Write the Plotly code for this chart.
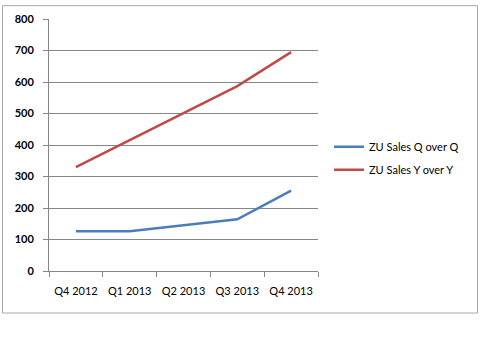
import plotly.graph_objects as go

categories = ["Q4 2012", "Q1 2013", "Q2 2013", "Q3 2013", "Q4 2013"]
qoq_values = [126, 126, 145, 164, 255]
yoy_values = [330, 415, 500, 587, 695]
series_names = ["ZU Sales Q over Q", "ZU Sales Y over Y"]
y_ticks = [0, 100, 200, 300, 400, 500, 600, 700, 800]

W, H = 480, 352
L, R, T, B = 49, 318, 16, 271

fig = go.Figure()
fig.add_trace(go.Scatter(x=categories, y=qoq_values, mode="lines", name=series_names[0],
                         legendgroup="a", line=dict(color="#4A7EBB", width=2.5)))
fig.add_trace(go.Scatter(x=categories, y=yoy_values, mode="lines", name=series_names[1],
                         legendgroup="b", line=dict(color="#BE4B48", width=2.5)))

def px_x(p):
    return (p - L) / (R - L)

def px_y(p):
    return (B - p) / (B - T)

fig.add_shape(type="rect", xref="paper", yref="paper",
              x0=px_x(2.5), x1=px_x(477.5), y0=px_y(313.5), y1=px_y(2.5),
              line=dict(color="#A6A6A6", width=1), fillcolor="rgba(0,0,0,0)", layer="below")

fig.update_layout(
    width=W, height=H,
    margin=dict(l=L, r=W - R, t=T, b=H - B, pad=0),
    paper_bgcolor="white", plot_bgcolor="white",
    font=dict(family="Lato", size=11, color="#000000"),
    showlegend=True,
    legend=dict(x=px_x(329), y=px_y(157), xanchor="left", yanchor="middle",
                itemwidth=30, font=dict(family="Lato", size=11, color="#000000"),
                bgcolor="rgba(0,0,0,0)", traceorder="grouped", tracegroupgap=4),
    xaxis=dict(type="category", range=[-0.5, 4.5], tickson="boundaries",
               ticks="outside", ticklen=5, tickcolor="#868686", showline=True,
               linecolor="#868686", linewidth=1, showgrid=False, zeroline=False,
               ticklabelstandoff=10, tickfont=dict(size=11)),
    yaxis=dict(range=[0, 800], tickvals=y_ticks, ticks="outside", ticklen=5,
               tickcolor="#868686", showline=True, linecolor="#868686", linewidth=1,
               showgrid=True, gridcolor="#868686", gridwidth=1, zeroline=False,
               ticklabelstandoff=7, tickfont=dict(size=11, weight="bold")),
)

fig.write_html("out.html")
